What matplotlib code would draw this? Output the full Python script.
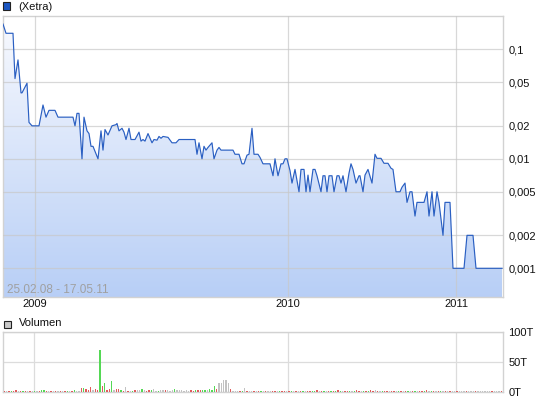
import numpy as np
import matplotlib
matplotlib.use("Agg")
import matplotlib.pyplot as plt
from matplotlib.patches import Rectangle
from matplotlib.ticker import NullLocator

plt.rcParams['font.family'] = ['Liberation Sans', 'DejaVu Sans']

# ---------------- data ----------------
# session position along the time axis (0 .. 500) and closing price (EUR)
session = [0, 3, 10, 12, 15, 18, 19, 24, 26, 29, 36, 40, 43, 46, 52, 55, 70, 72, 74, 76,
           79, 81, 84, 86, 88, 90, 95, 98, 100, 102, 105, 109, 113, 114, 116, 119, 121, 123,
           126, 128, 132, 136, 138, 140, 142, 145, 149, 151, 154, 156, 158, 160, 165, 169,
           173, 176, 192, 194, 196, 199, 201, 203, 205, 209, 211, 214, 216, 218, 230, 232,
           236, 239, 241, 244, 246, 249, 251, 255, 257, 260, 267, 270, 272, 275, 278, 280,
           282, 284, 287, 289, 292, 296, 298, 301, 303, 305, 307, 310, 312, 314, 318, 320,
           322, 324, 326, 329, 331, 334, 336, 338, 340, 343, 346, 348, 350, 353, 356, 357,
           360, 362, 365, 369, 372, 374, 378, 381, 385, 388, 390, 393, 397, 399, 402, 404,
           407, 409, 412, 414, 421, 424, 426, 429, 431, 434, 436, 440, 442, 447, 450, 461,
           464, 470, 473, 499]
price = [0.17, 0.14, 0.14, 0.054, 0.08, 0.04, 0.04, 0.049, 0.0215, 0.02, 0.02, 0.031, 0.024,
         0.0277, 0.0277, 0.024, 0.024, 0.02, 0.026, 0.026, 0.01, 0.024, 0.018, 0.017, 0.013,
         0.013, 0.01, 0.018, 0.012, 0.0185, 0.0165, 0.02, 0.0205, 0.021, 0.018, 0.019,
         0.0175, 0.015, 0.019, 0.015, 0.015, 0.0175, 0.0145, 0.015, 0.0145, 0.017, 0.014,
         0.015, 0.0148, 0.016, 0.0154, 0.016, 0.0157, 0.014, 0.014, 0.015, 0.015, 0.011,
         0.014, 0.01, 0.013, 0.012, 0.0127, 0.014, 0.01, 0.012, 0.0127, 0.012, 0.012, 0.011,
         0.011, 0.009, 0.009, 0.0108, 0.011, 0.019, 0.011, 0.011, 0.0103, 0.009, 0.009,
         0.007, 0.01, 0.007, 0.009, 0.009, 0.01, 0.01, 0.0078, 0.006, 0.008, 0.005, 0.008,
         0.008, 0.005, 0.0071, 0.005, 0.008, 0.008, 0.007, 0.005, 0.007, 0.007, 0.005,
         0.007, 0.007, 0.005, 0.007, 0.007, 0.006, 0.007, 0.005, 0.0074, 0.009, 0.008,
         0.006, 0.007, 0.007, 0.005, 0.0071, 0.008, 0.006, 0.011, 0.0101, 0.0101, 0.0091,
         0.0091, 0.0082, 0.008, 0.005, 0.005, 0.0055, 0.006, 0.004, 0.005, 0.005, 0.003,
         0.004, 0.004, 0.005, 0.003, 0.005, 0.003, 0.005, 0.004, 0.002, 0.004, 0.004,
         0.001, 0.001, 0.002, 0.002, 0.001, 0.001]

year_labels = ['2009', '2010', '2011']
year_pos = [31.5, 284.5, 453.0]          # session positions of year starts
price_ticks = [0.1, 0.05, 0.02, 0.01, 0.005, 0.002, 0.001]
price_tick_labels = ['0,1', '0,05', '0,02', '0,01', '0,005', '0,002', '0,001']

# daily volume (thousands of shares), one bar per trading day
volume = [1, 1, 0.5, 1, 1, 2, 1, 0.5, 1.5, 1, 0.5, 1, 0.5, 1, 0.5, 1, 2.5, 2.5, 1, 0.5,
          1, 0.5, 1, 0.5, 1, 0.5, 1, 1, 0.5, 1,
          2, 1, 1, 6, 6, 4, 2, 8, 3, 5, 3, 69, 10, 15, 3, 5, 17, 3, 5, 5,
          3, 1, 7, 1, 1, 0.5, 3, 2, 2, 4, 3, 1, 3, 3, 5, 1, 1, 3, 2, 3,
          3, 1, 3, 5, 3, 3, 3, 1, 3, 1, 3, 1, 3, 3, 3, 3, 3, 3, 5, 2,
          10, 5, 15, 15, 20, 19, 15, 5, 1, 1, 1, 1, 1, 6, 1, 1, 1,
          1, 0.5, 1, 0.5, 1, 1, 0.5, 1, 0.5, 1,
          1, 0.5, 1, 1.5, 1, 0.5, 1, 1, 0.5, 1,
          0.5, 1, 1, 0.5, 1, 1, 1.5, 2, 1, 0.5,
          1, 1, 0.5, 1, 1.5, 1, 2, 1, 1, 0.5,
          1, 1.5, 1, 0.5, 2, 1, 1, 0.5, 1, 1.5,
          2, 1, 3, 1, 1, 0.5, 1, 1, 1.5, 1,
          1, 1.5, 0.5, 1, 1, 0.5, 1, 1, 0.5, 1,
          1, 0.5, 1, 1, 2, 1, 0.5, 1, 1, 0.5,
          1, 1, 0.5, 1, 0.5, 1, 0.5, 0.5, 1, 0.5,
          0.5, 0.5, 1, 0.5, 0.5, 0.5, 1, 0.5, 0.5, 0.5,
          0.5, 0.5, 0.5, 1, 0.5, 0.5, 0.5]
# r = down day, g = up day, n = unchanged
volume_dir = list("rnrgrrnrgrnrngnrggrnrnrnrnrgnr"
                  "gnnrgrrrnrrgrgrrgnrrgrnrngrnngnrrgnngnnrnnngnnnnnnrrgrrggngggrnnnnnrnnnrgnrn"
                  "nrnrgnrnnr" "rngrrnrgnr" "nrgnrrggrn" "rgnrgrgrgn" "rrgngrrngr"
                  "grrnrngrrn" "rrngrnrgnr" "gnrrgrngrn" "rgnrnrnnrn" "nnrnnnrnnn" "nnnrnnn")
vol_year_pos = [12.9, 121.4, 193.6]   # same year starts in bar-index units
vol_ticks = [0, 50, 100]
vol_tick_labels = ['0T', '50T', '100T']

# ---------------- styling ----------------
W, H = 545, 401
fig = plt.figure(figsize=(W / 100, H / 100), dpi=100)
fig.patch.set_facecolor('white')

line_col = '#2a5fc2'
grid_col = '#c8c8c8'
spine_col = '#d2d2d2'
fs = 8

def fx(px):
    return px / W

def fy(py):
    return 1 - py / H

ax = fig.add_axes([fx(3), fy(297), 500 / W, 281 / H])
axv = fig.add_axes([fx(3), fy(391.5), 500 / W, 59.5 / H])

# ---- price panel ----
ymin, ymax = 10 ** -3.262, 10 ** -0.696
ax.set_yscale('log')
poly = ax.fill_between(session, price, ymin, facecolor='none', edgecolor='none', zorder=1)
grad = np.linspace(0, 1, 256).reshape(-1, 1)
top = np.array([0.975, 0.98, 0.997])
bot = np.array([0.72, 0.81, 0.965])
img = top[None, None, :] * (1 - grad[..., None]) + bot[None, None, :] * grad[..., None]
im = ax.imshow(img, extent=[0, 1, 0, 1], transform=ax.transAxes, aspect='auto',
               origin='upper', zorder=1, interpolation='bilinear')
im.set_clip_path(poly.get_paths()[0], transform=ax.transData)
ax.plot(session, price, color=line_col, lw=0.85, zorder=3)

ax.set_xlim(0, 500)
ax.set_ylim(ymin, ymax)
ax.yaxis.set_minor_locator(NullLocator())
ax.set_yticks(price_ticks)
ax.set_yticklabels(price_tick_labels)
ax.set_xticks(year_pos)
ax.set_xticklabels(year_labels)
ax.yaxis.tick_right()
ax.tick_params(axis='y', length=0, pad=4, labelsize=fs, labelcolor='#111111')
ax.tick_params(axis='x', length=0, pad=1.5, labelsize=fs, labelcolor='#111111')
ax.grid(True, color=grid_col, lw=0.9, alpha=0.7)
ax.set_axisbelow(False)
for s in ax.spines.values():
    s.set_color(spine_col)
    s.set_linewidth(1.0)
fig.text(fx(7), fy(290), '25.02.08 - 17.05.11', fontsize=8.5, color='#a0a0a0',
         va='center', ha='left')

# ---- volume panel ----
colmap = {'g': '#55d855', 'r': '#e05c5c', 'n': '#c2c2c2'}
idx = np.arange(len(volume))
axv.bar(idx, volume, width=0.5, color=[colmap[c] for c in volume_dir], zorder=3)
axv.set_xlim(-0.56, 213.7)
axv.set_ylim(0, 100)
axv.set_yticks(vol_ticks)
axv.set_yticklabels(vol_tick_labels)
axv.yaxis.tick_right()
axv.set_xticks(vol_year_pos)
axv.set_xticklabels([])
axv.tick_params(axis='both', length=0, pad=4, labelsize=fs, labelcolor='#111111')
axv.grid(True, color='#dcdcdc', lw=0.9)
axv.set_axisbelow(True)
for s in axv.spines.values():
    s.set_color(spine_col)
    s.set_linewidth(1.0)

# ---- legends ----
fig.add_artist(Rectangle((fx(2.5), fy(9.5)), 7 / W, 7 / H, transform=fig.transFigure,
                         facecolor='#1b56c2', edgecolor='#222222', lw=0.8))
fig.text(fx(18), fy(6.5), '(Xetra)', fontsize=fs, va='center', ha='left', color='#111111')
fig.add_artist(Rectangle((fx(3.5), fy(327.5)), 7 / W, 7 / H, transform=fig.transFigure,
                         facecolor='#c8c8c8', edgecolor='#222222', lw=0.8))
fig.text(fx(19), fy(323.5), 'Volumen', fontsize=fs, va='center', ha='left', color='#111111')

fig.savefig('out.png', dpi=100)
